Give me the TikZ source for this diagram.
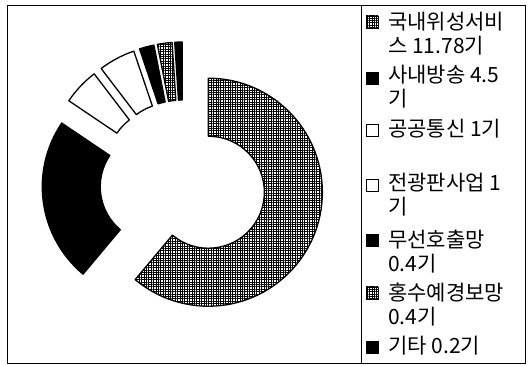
\documentclass[tikz,border=0pt]{standalone}
\usepackage{fontspec}
\setmainfont{Noto Sans CJK KR}
\usetikzlibrary{patterns.meta}
\tikzset{
  slicegray/.style={draw=black, line width=1.3pt, line join=round, fill=white,
     postaction={pattern={Hatch[distance=2.4pt, angle=0, line width=0.8pt]}, pattern color=black}},
  sliceblack/.style={draw=black, line width=1.3pt, line join=round, fill=black},
  slicewhite/.style={draw=black, line width=1.3pt, line join=round, fill=white},
  legtext/.style={anchor=base west, inner sep=0pt, align=left,
     font=\fontsize{21pt}{24pt}\selectfont},
  markbox/.style={minimum size=12pt, inner sep=0pt, line width=0.8pt},
  markgray/.style={markbox, draw=black, fill=white,
     postaction={pattern={Hatch[distance=2.4pt, angle=0, line width=0.8pt]}, pattern color=black}},
  markblack/.style={markbox, draw=black, fill=black},
  markwhite/.style={markbox, draw=black, fill=white},
  frameline/.style={draw=black, line width=0.8pt}
}
\newcommand\donutpart[3]{%
  \pgfmathsetmacro\bis{(#1+#2)/2}%
  \draw[#3, shift={(\bis:27)}] (#1:114) arc[start angle=#1, end angle=#2, radius=114]
     -- (#2:56) arc[start angle=#2, end angle=#1, radius=56] -- cycle;}
\begin{document}
\begin{tikzpicture}[x=1pt, y=1pt]
\useasboundingbox (0,0) rectangle (531,366);
% frame
\draw[frameline] (7,3) rectangle (525,361);
\draw[frameline] (361,3) -- (361,361);
% doughnut
\begin{scope}[shift={(183,183)}]
  \donutpart{90}{-129.96}{slicegray}
  \donutpart{-129.96}{-213.98}{sliceblack}
  \donutpart{-213.98}{-232.65}{slicewhite}
  \donutpart{-232.65}{-251.33}{slicewhite}
  \donutpart{-251.33}{-258.80}{sliceblack}
  \donutpart{-258.80}{-266.27}{slicegray}
  \donutpart{-266.27}{-270}{sliceblack}
\end{scope}
% legend markers
\node[markgray]  (m1) at (372,344) {};
\node[markblack] (m2) at (372,288) {};
\node[markwhite] (m3) at (372,236) {};
\node[markwhite] (m4) at (372,181) {};
\node[markblack] (m5) at (372,126) {};
\node[markgray]  (m6) at (372,73) {};
\node[markblack] (m7) at (372,19) {};
% legend texts (base = baseline of last line)
\node[legtext] (t1) at (388,312) {국내위성서비\\스 11.78기};
\node[legtext] (t2) at (388,259) {사내방송 4.5\\기};
\node[legtext] (t3) at (388,229) {공공통신 1기};
\node[legtext] (t4) at (388,151) {전광판사업 1\\기};
\node[legtext] (t5) at (388,94) {무선호출망\\0.4기};
\node[legtext] (t6) at (388,41) {홍수예경보망\\0.4기};
\node[legtext] (t7) at (388,12) {기타 0.2기};
\end{tikzpicture}
\end{document}
